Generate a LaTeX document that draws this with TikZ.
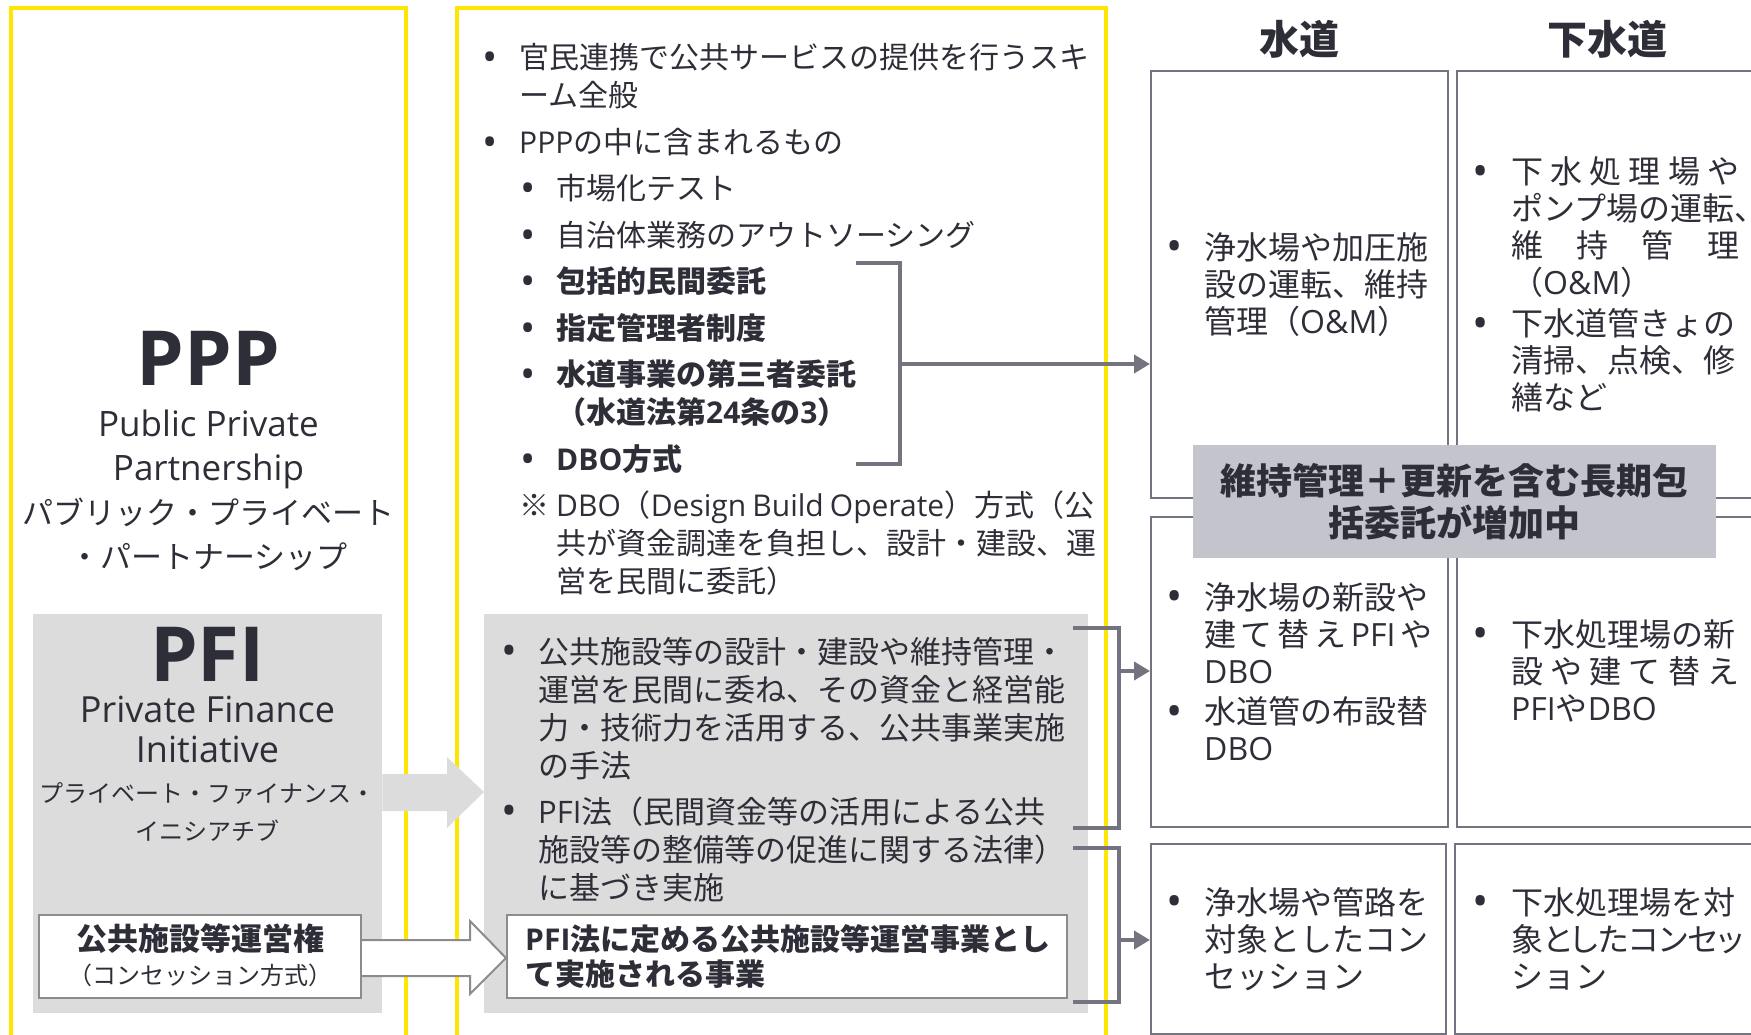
\documentclass[tikz,border=0pt]{standalone}
\usepackage{fontspec}
\usepackage{xcolor, tikz}
\setmainfont{Noto Sans CJK JP}
\newfontfamily\enfont{Open Sans}
\newfontfamily\palfont{Noto Sans CJK JP}[RawFeature=+palt]
\usetikzlibrary{arrows.meta}

\definecolor{eyyellow}{HTML}{FFE600}
\definecolor{eydark}{HTML}{2E2E38}
\definecolor{eygray}{HTML}{747480}
\definecolor{boxgray}{HTML}{DCDCDC}
\definecolor{bannergray}{HTML}{C4C4CD}
\definecolor{framegray}{HTML}{8C8C8C}

\newcommand{\en}[1]{{\enfont #1}}
\newcommand{\fs}[2]{\fontsize{#1}{#2}\selectfont}
\newcommand{\bmark}{\raisebox{-0.09em}{\scalebox{1.35}{\en{\mdseries •}}}}
% list paragraphs: #1 left skip, #2 hanging indent
\newcommand{\bul}[2]{\leftskip=#1\relax\hangindent=#2\relax\hangafter=1\noindent\makebox[#2][l]{\bmark}}
\newcommand{\kome}[2]{\leftskip=#1\relax\hangindent=#2\relax\hangafter=1\noindent\makebox[#2][l]{※}}

\begin{document}
\begin{tikzpicture}[x=1pt,y=-1pt,text=eydark,
    yframe/.style={draw=eyyellow,line width=4pt},
    graybox/.style={fill=boxgray,inner sep=0pt,anchor=north west},
    whitebox/.style={fill=white,draw=framegray,line width=2pt,inner sep=0pt,anchor=north west},
    gridbox/.style={draw=eygray,line width=2pt,inner sep=0pt,anchor=north west},
    bracket/.style={draw=eygray,line width=4pt},
    conarrow/.style={-{Triangle[length=16pt,width=18pt]}},
    listtext/.style={inner sep=0pt,anchor=base west,align=justify,text width=#1},
    ctext/.style={inner sep=0pt,anchor=base,align=flush center}]

	\useasboundingbox (0,0) rectangle (1751,1035);
	\clip (0,0) rectangle (1751,1035);

	%yellow frames
	\draw[yframe] (11,1040) -- (11,8) -- (406,8) -- (406,1040);
	\draw[yframe] (457,1040) -- (457,8) -- (1106,8) -- (1106,1040);

	%ppp
	\node[ctext] (pppTitle) at (208.5,385) {\fs{76}{80}\en{\bfseries PPP}};
	\node[ctext,text width=395pt] (pppName) at (208.5,436)
		{\fs{35}{44}\en{Public Private}\\\en{Partnership}\\{\fs{31}{44}パブリック・プライベート\\・パートナーシップ\par}};

	%pfi
	\node[graybox,minimum width=349pt,minimum height=399pt] (pfiBox) at (33,614) {};
	\node[graybox,minimum width=604pt,minimum height=399pt] (pfiMid) at (484,614) {};
	\node[ctext] (pfiTitle) at (207.5,681) {\fs{76}{80}\en{\bfseries PFI}};
	\node[ctext,text width=349pt] (pfiName) at (207.5,722)
		{\fs{36}{40}\en{Private Finance}\\\en{Initiative}\par};
	\node[ctext,text width=349pt] (pfiKana) at (207.5,802)
		{\fs{24}{38}プライベート・ファイナンス・\\イニシアチブ\par};
	\fill[boxgray] (pfiBox.east |- 0,774) -- (447,774) -- (447,757) -- (pfiMid.west |- 0,792)
		-- (447,828) -- (447,811) -- (pfiBox.east |- 0,811) -- cycle;

	%concession
	\node[whitebox,minimum width=322pt,minimum height=83pt] (concBox) at (38,914) {};
	\node[whitebox,minimum width=560pt,minimum height=83pt] (concMid) at (506,914) {};
	\node[ctext] (concTitle) at (concBox.center |- 0,950) {\fs{31}{34}\bfseries 公共施設等運営権};
	\node[ctext] (concSub) at (concBox.center |- 0,984) {\fs{24}{30}（コンセッション方式）};
	\node[listtext=540pt] (concText) at (525,950)
		{\fs{30}{35}\bfseries\en{PFI}法に定める公共施設等運営事業とし\\て実施される事業\par};
	\fill[white] (concBox.east |- 0,940) -- (470,940) -- (470,921) -- (concMid.west |- 0,958)
		-- (470,994) -- (470,976) -- (concBox.east |- 0,976) -- cycle;
	\draw[framegray,line width=2pt] (concBox.east |- 0,940) -- (470,940) -- (470,921)
		-- (concMid.west |- 0,958) -- (470,994) -- (470,976) -- (concBox.east |- 0,976);

	%lists in the middle
	\node[listtext=612pt] (pppList) at (482,69) {\fs{30}{38}\parskip=8.5pt
		\bul{0pt}{37pt}官民連携で公共サービスの提供を行うスキ\\ーム全般

		\bul{0pt}{37pt}\en{PPP}の中に含まれるもの

		\bul{38pt}{36pt}市場化テスト

		\bul{38pt}{36pt}自治体業務のアウトソーシング

		\bul{38pt}{36pt}\textbf{包括的民間委託}

		\bul{38pt}{36pt}\textbf{指定管理者制度}

		\bul{38pt}{36pt}\textbf{水道事業の第三者委託\\（水道法第\en{24}条の\en{3}）}

		\bul{38pt}{36pt}\textbf{\en{DBO}方式}

		\kome{37pt}{37pt}\en{DBO}（\en{Design~Build~Operate}）方式（公\\共が資金調達を負担し、設計・建設、運\\営を民間に委託）\par};
	\node[listtext=565pt] (pfiList) at (501,663) {\fs{31}{38}\parskip=8pt
		\bul{0pt}{37pt}公共施設等の設計・建設や維持管理・\\運営を民間に委ね、その資金と経営能\\力・技術力を活用する、公共事業実施\\の手法

		\bul{0pt}{37pt}\en{PFI}法（民間資金等の活用による公共\\施設等の整備等の促進に関する法律）\\に基づき実施\par};

	%grid of water and sewer
	\node[gridbox,minimum width=297pt,minimum height=427pt] (wTopBox) at (1150,70) {};
	\node[gridbox,minimum width=300pt,minimum height=427pt] (sTopBox) at (1456,70) {};
	\node[gridbox,minimum width=297pt,minimum height=310pt] (wMidBox) at (1150,516) {};
	\node[gridbox,minimum width=300pt,minimum height=310pt] (sMidBox) at (1456,516) {};
	\node[gridbox,minimum width=295pt,minimum height=190pt] (wBotBox) at (1150,843) {};
	\node[gridbox,minimum width=302pt,minimum height=190pt] (sBotBox) at (1454,843) {};

	\node[ctext] (wHead) at (wTopBox.north |- 0,55) {\fs{40}{44}\bfseries 水道};
	\node[ctext] (sHead) at (sTopBox.north |- 0,55) {\fs{40}{44}\bfseries 下水道};

	\node[listtext=266pt] (wTopTxt) at (1166,259) {\fs{32}{37}\parskip=3.5pt
		\bul{0pt}{38pt}浄水場や加圧施\\設の運転、維持\\管理（\en{O\&M}）\par};
	\node[listtext=267pt] (sTopTxt) at (1472,184) {\fs{32}{37}\parskip=3.5pt
		\bul{0pt}{39pt}下\hfill 水\hfill 処\hfill 理\hfill 場\hfill や\\ポンプ場の運転\rlap{、}\\維\hfill 持\hfill 管\hfill 理\\（\en{O\&M}）

		\bul{0pt}{39pt}下水道管きょの\\清掃、点検、修\\繕など\par};
	\node[listtext=266pt] (wMidTxt) at (1166,609) {\fs{32}{37}\parskip=3.5pt
		\bul{0pt}{38pt}浄水場の新設や\\建\hfill て\hfill 替\hfill え\hfill \en{PFI}\hfill や\\\en{DBO}

		\bul{0pt}{38pt}水道管の布設替\\\en{DBO}\par};
	\node[listtext=267pt] (sMidTxt) at (1472,646) {\fs{32}{37}\parskip=3.5pt
		\bul{0pt}{39pt}下水処理場の新\\設\hfill や\hfill 建\hfill て\hfill 替\hfill え\\\en{PFI}や\en{DBO}\par};
	\node[listtext=266pt] (wBotTxt) at (1166,914) {\fs{32}{37}\parskip=3.5pt
		\bul{0pt}{38pt}浄水場や管路を\\対象としたコン\\セッション\par};
	\node[listtext=267pt] (sBotTxt) at (1472,914) {\fs{32}{37}\parskip=3.5pt
		\bul{0pt}{39pt}下水処理場を対\\{\palfont 象としたコンセッ}\\ション\par};

	\node[fill=bannergray,minimum width=523pt,minimum height=113pt,inner sep=0pt,
		text width=523pt,align=flush center] (banner) at (1454.5,501.5)
		{\fs{36}{42}\bfseries 維持管理＋更新を含む長期包\\括委託が増加中\par};

	%brackets
	\draw[bracket] (856,263) -- (900,263) -- (900,464) -- (856,464);
	\draw[bracket,conarrow] (900,364) -- (wTopBox.west |- 0,364);
	\draw[bracket] (1073,628) -- (1119,628) -- (1119,828) -- (1073,828);
	\draw[bracket,conarrow] (1119,671) -- (wMidBox.west |- 0,671);
	\draw[bracket] (1073,848) -- (1119,848) -- (1119,1002) -- (1073,1002);
	\draw[bracket,conarrow] (1119,940) -- (wBotBox.west |- 0,940);

\end{tikzpicture}
\end{document}
